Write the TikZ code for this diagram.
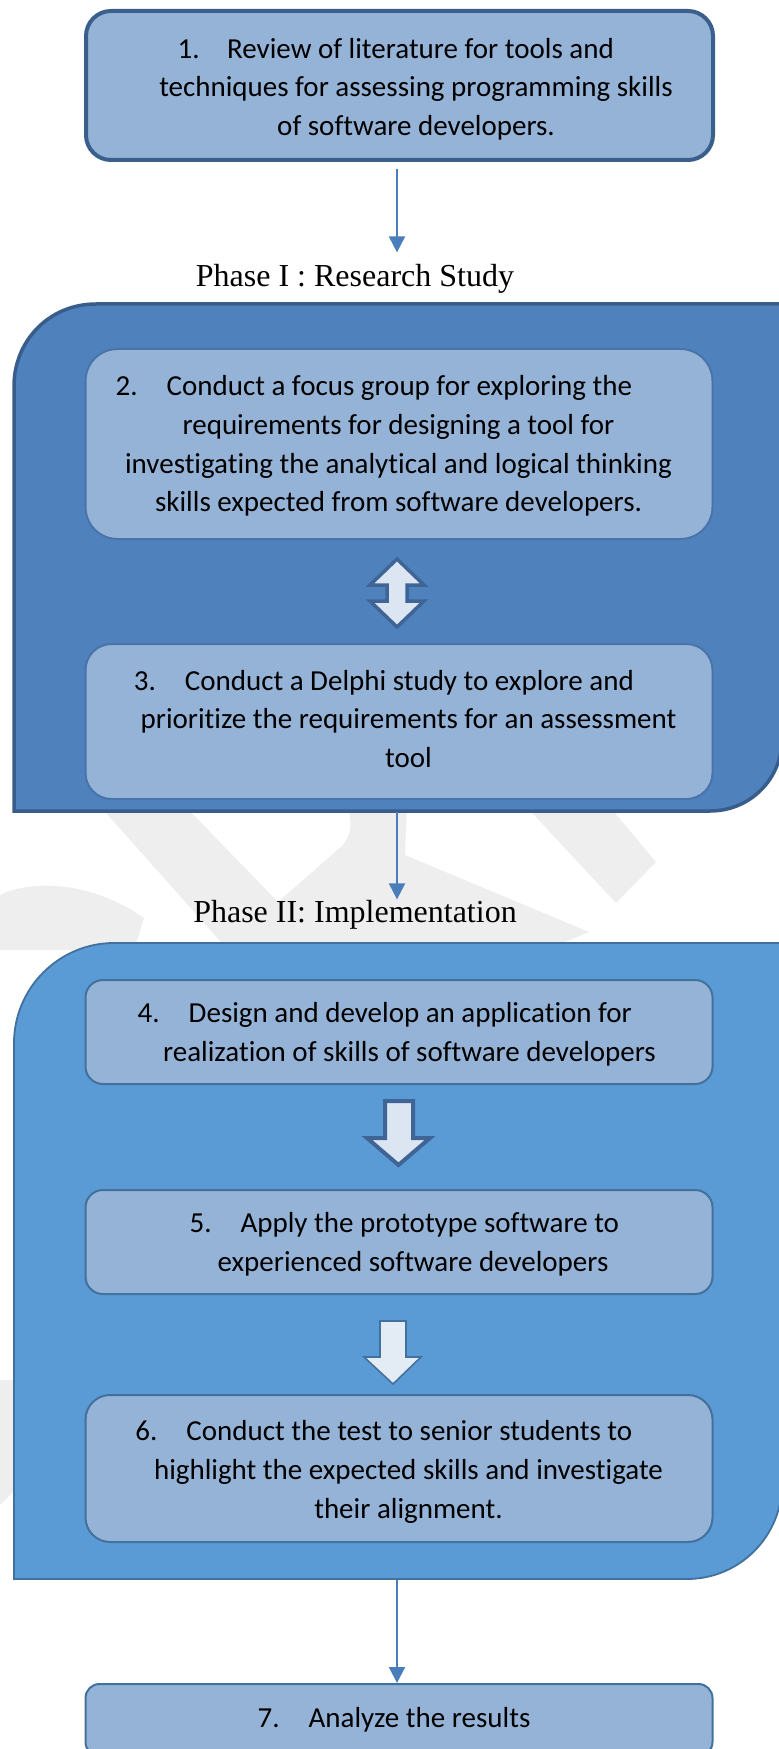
\documentclass[tikz,border=0pt]{standalone}
\usepackage{fontspec}
\setmainfont{Carlito}[Ligatures=NoCommon]
\newfontfamily\timesf{Liberation Serif}
\usetikzlibrary{arrows.meta}
\definecolor{boxfill}{HTML}{95B3D7}
\definecolor{boxlineA}{HTML}{3A5F8B}
\definecolor{boxlineB}{HTML}{4874AA}
\definecolor{boxlineC}{HTML}{41719C}
\definecolor{panelA}{HTML}{4F81BD}
\definecolor{panelAline}{HTML}{385D8A}
\definecolor{panelB}{HTML}{5B9BD5}
\definecolor{panelBline}{HTML}{41719C}
\definecolor{arrowc}{HTML}{4A7EBB}
\definecolor{blockfill}{HTML}{DCE6F2}
\definecolor{blockline}{HTML}{3F6596}
\definecolor{wm}{HTML}{EEEEEE}
\tikzset{
  box/.style={draw=boxlineC, fill=boxfill, line width=1pt, inner sep=0pt, minimum width=313.5pt},
  txt/.style={align=center, inner sep=0pt, font=\fontsize{14.5pt}{19.3pt}\selectfont},
  phase/.style={font=\timesf\fontsize{16pt}{19pt}\selectfont, anchor=base},
  arr/.style={draw=arrowc, line width=1pt, -{Triangle[width=8pt,length=8pt]}},
  blockarr/.style={fill=blockfill, draw=blockline, line width=2pt, line join=miter},
}
\begin{document}
\begin{tikzpicture}[x=0.5pt,y=-0.5pt]
\useasboundingbox (0,0) rectangle (779,1749);
\clip (0,0) rectangle (779,1749);

% faint watermark
\fill[wm] (99,805) -- (184,805) -- (278,902) -- (343,845) .. controls (352,830) .. (348,805)
  -- (407,805) -- (405,855) -- (589,932) -- (546,950) -- (228,950) -- cycle;
\fill[wm] (520,800) -- (604,800) -- (656,862) -- (616,903) -- cycle;
\fill[wm] (0,895) .. controls (30,880) and (90,880) .. (144,918) -- (134,950) -- (0,950) -- cycle;
\fill[wm] (0,1380) -- (15,1380) -- (15,1490) -- (0,1505) -- cycle;

% Phase I panel
\draw[fill=panelA, draw=panelAline, line width=1.75pt]
  (14,811) -- (14,386) .. controls (14,341) and (49,304) .. (96,304)
  -- (782,304) -- (782,739) .. controls (782,779) and (750,811) .. (710,811) -- cycle;
\coordinate (pIbot) at (397,812);

% Phase II panel
\draw[fill=panelB, draw=panelBline, line width=0.9pt]
  (14,1579) -- (14,1043) .. controls (14,988) and (59,943) .. (114,943)
  -- (782,943) -- (782,1484) .. controls (782,1536) and (740,1579) .. (687,1579) -- cycle;
\coordinate (pIIbot) at (397,1580);

% boxes
\node[box, draw=boxlineA, line width=2pt, minimum height=74.5pt, rounded corners=12.5pt] (b1) at (399.5,85.5) {};
\node[box, draw=boxlineB, minimum height=95pt, rounded corners=16pt] (b2) at (399,444) {};
\node[box, draw=boxlineB, minimum height=77.5pt, rounded corners=13pt] (b3) at (399,721.5) {};
\node[box, minimum height=52pt, rounded corners=8.7pt] (b4) at (399,1032) {};
\node[box, minimum height=52pt, rounded corners=8.7pt] (b5) at (399,1242) {};
\node[box, minimum height=73.5pt, rounded corners=12.25pt] (b6) at (399,1468.5) {};
\node[box, minimum height=36pt, rounded corners=7pt] (b7) at (399,1720) {};

% texts
\node[txt] (t1) at (416,89) {1.\hspace{0.95em}Review of literature for tools and\rule{1.4em}{0pt}\\
  techniques for assessing programming skills\\ of software developers.};
\node[txt] (t2) at (398.5,446) {2.\hspace{1em}Conduct a focus group for exploring the\rule{1.7em}{0pt}\\
  requirements for designing a tool for\\ investigating the analytical and logical thinking\\
  skills expected from software developers.};
\node[txt] (t3) at (408.5,719) {3.\hspace{1em}Conduct a Delphi study to explore and\rule{1.7em}{0pt}\\
  prioritize the requirements for an assessment\\ tool};
\node[txt] (t4) at (409.5,1034) {4.\hspace{1em}Design and develop an application for\rule{1.7em}{0pt}\\
  realization of skills of software developers};
\node[txt] (t5) at (413,1244) {5.\hspace{1em}Apply the prototype software to\rule{0.6em}{0pt}\\
  experienced software developers};
\node[txt] (t6) at (408.5,1472) {6.\hspace{1em}Conduct the test to senior students to\rule{1.7em}{0pt}\\
  highlight the expected skills and investigate\\ their alignment.};
\node[txt] (t7) at (394,1720) {7.\hspace{1em}Analyze the results};

% phase labels
\node[phase, inner sep=6pt] (p1) at (355,287) {Phase I : Research Study};
\node[phase, inner sep=0pt] (p2) at (355,922) {Phase II: Implementation};

% thin arrows
\draw[arr] ([xshift=-1.25pt,yshift=-3.5pt]b1.south) -- ([xshift=-1.25pt]b1.south |- p1.north);
\draw[arr] (pIbot) -- (pIbot |- p2.north);
\draw[arr] (pIIbot) -- (pIIbot |- b7.north);

% double block arrow between 2 and 3
\draw[blockarr, line width=1.75pt] (397,559) -- (424,585) -- (407,585) -- (407,601) -- (424,601) -- (397,627)
  -- (370,601) -- (387,601) -- (387,585) -- (370,585) -- cycle;
% block arrow 4 -> 5
\draw[blockarr] (385,1101) -- (413,1101) -- (413,1138) -- (430,1138) -- (398.5,1165) -- (367,1138) -- (385,1138) -- cycle;
% block arrow 5 -> 6
\draw[blockarr, draw=boxlineC, fill=blockfill!80!white, line width=0.8pt]
  (380,1321) -- (406,1321) -- (406,1357) -- (421,1357) -- (393,1384) -- (364,1357) -- (380,1357) -- cycle;
\end{tikzpicture}
\end{document}
